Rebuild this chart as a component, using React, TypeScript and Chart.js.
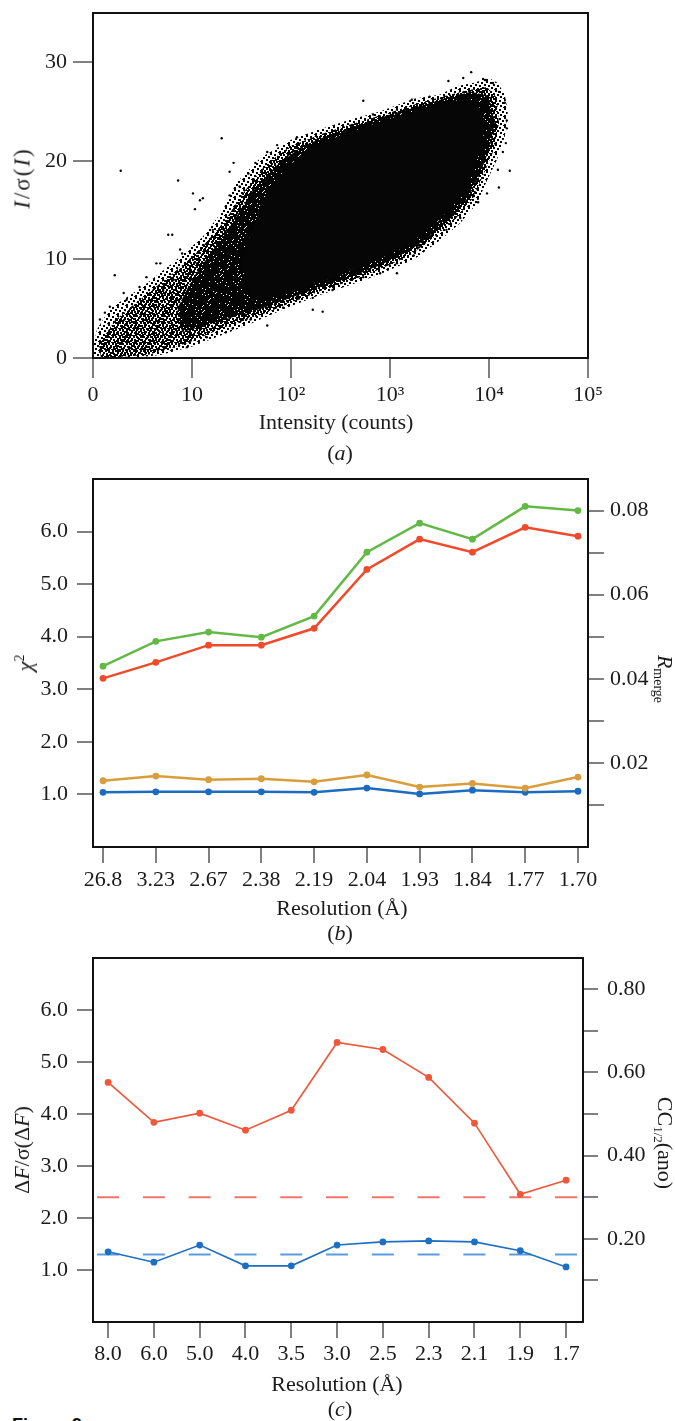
import React, { useEffect, useRef } from 'react';
import { Chart, registerables } from 'chart.js';

Chart.register(...registerables);

/* ---------------- (a) I/σ(I) vs intensity ---------------- */
const A_X_TICKS = [0, 1, 2, 3, 4, 5];
const A_X_LABELS = ['0', '10', '10²', '10³', '10⁴', '10⁵'];
const A_Y_TICKS = [0, 10, 20, 30];
// outlines of the scatter cloud at decreasing density (x = decade position, y = I/σ(I))
const A_CLOUD_SPARSE: number[][] = [
  [0.0, 0.0], [0.4, 0.0], [0.68, 0.3], [1.01, 1.2], [1.35, 2.5], [1.62, 3.6], [1.96, 5.1], [2.29, 6.4],
  [2.6, 7.4], [2.9, 8.5], [3.24, 10.0], [3.5, 11.9], [3.71, 13.7], [3.88, 15.7], [3.98, 18.0], [4.08, 20.1],
  [4.16, 22.5], [4.19, 25.0], [4.16, 26.7], [4.09, 27.9], [4.0, 28.4], [3.84, 27.9], [3.68, 27.6], [3.5, 26.7],
  [3.24, 26.3], [2.9, 25.0], [2.6, 24.2], [2.39, 23.5], [2.26, 23.1], [1.99, 22.1], [1.69, 20.3], [1.45, 17.8],
  [1.3, 14.8], [1.1, 12.2], [0.81, 9.7], [0.51, 7.3], [0.17, 5.0], [0.04, 2.9], [0.0, 1.0],
];
const A_CLOUD_DENSE: number[][] = [
  [0.08, 0.0], [0.55, 0.3], [0.95, 1.5], [1.3, 3.0], [1.7, 4.4], [2.0, 5.6], [2.3, 6.8], [2.6, 7.8],
  [2.9, 9.0], [3.2, 10.4], [3.45, 12.3], [3.66, 14.1], [3.83, 16.1], [3.94, 18.5], [4.04, 20.9], [4.1, 23.8],
  [4.08, 26.4], [3.98, 27.5], [3.8, 27.2], [3.6, 26.7], [3.3, 25.9], [3.0, 24.9], [2.6, 23.7], [2.3, 22.7],
  [2.0, 21.5], [1.75, 19.7], [1.52, 16.8], [1.33, 13.9], [1.08, 11.0], [0.82, 8.7], [0.52, 6.3], [0.22, 3.8],
  [0.06, 1.4],
];
const A_CLOUD_THICK: number[][] = [
  [0.9, 2.6], [1.3, 3.8], [1.7, 5.0], [2.0, 6.1], [2.3, 7.2], [2.6, 8.2], [2.9, 9.4], [3.2, 10.9],
  [3.45, 12.7], [3.65, 14.5], [3.8, 16.4], [3.92, 18.9], [4.01, 21.4], [4.06, 24.0], [4.0, 26.6], [3.82, 27.0],
  [3.6, 26.5], [3.35, 25.7], [3.0, 24.7], [2.7, 23.7], [2.4, 22.7], [2.1, 21.4], [1.85, 19.5], [1.6, 16.8],
  [1.4, 13.6], [1.2, 10.8], [1.0, 8.0], [0.85, 5.0],
];
const A_CLOUD_SOLID: number[][] = [
  [1.6, 5.8], [1.9, 6.3], [2.2, 7.3], [2.5, 8.4], [2.8, 9.6], [3.1, 11.0], [3.35, 12.7], [3.55, 14.5],
  [3.72, 16.6], [3.84, 19.0], [3.93, 21.5], [3.96, 24.0], [3.88, 26.0], [3.7, 26.2], [3.45, 25.6], [3.1, 24.6],
  [2.8, 23.6], [2.5, 22.6], [2.2, 21.3], [1.95, 19.3], [1.75, 16.5], [1.6, 13.0], [1.5, 9.5],
];
const A_STRAY: number[][] = [
  [0.28, 19.0], [1.3, 22.3], [0.86, 18.0], [0.22, 8.4], [0.31, 6.6], [1.01, 16.7], [1.11, 16.2], [1.76, 3.3],
  [2.22, 4.9], [2.32, 4.7], [0.8, 12.5], [0.88, 11.0], [1.05, 9.6], [0.68, 9.6], [1.57, 18.7], [1.42, 19.8],
  [1.38, 18.9], [1.86, 21.6], [2.06, 22.4], [2.73, 26.1], [4.21, 19.0], [4.1, 17.3], [3.71, 14.2], [3.4, 12.2],
  [3.07, 8.6], [3.24, 10.4], [3.82, 29.0], [3.59, 28.1], [3.96, 28.2], [4.17, 21.8], [4.18, 23.3], [3.84, 16.4],
  [3.89, 15.8], [0.76, 12.5], [0.9, 10.6], [0.64, 9.6], [0.54, 8.2], [0.47, 7.2], [1.08, 16.0], [1.03, 15.1],
  [1.21, 13.0], [1.38, 16.5], [1.48, 17.4], [1.64, 19.8], [1.76, 20.9], [1.99, 21.4], [0.07, 3.9], [0.12, 4.6],
  [0.17, 5.2], [0.34, 5.9], [0.4, 5.2], [0.71, 6.9], [0.81, 7.9], [3.3, 11.3], [3.57, 13.0], [3.4, 12.5],
  [3.07, 9.6], [2.9, 8.6], [2.73, 8.2], [3.98, 16.7], [4.09, 19.1], [4.14, 20.9], [4.18, 24.1], [4.16, 25.9],
  [4.1, 27.0], [4.04, 27.9], [3.94, 28.3], [3.74, 28.4], [3.4, 26.5], [3.22, 26.2], [2.83, 24.7], [2.6, 23.6],
  [1.41, 3.0], [1.59, 3.9], [1.92, 5.1], [2.22, 6.1], [2.42, 6.9], [1.15, 2.1], [0.95, 1.1],
];

/* ---------------- (b) χ² and Rmerge vs resolution ---------------- */
const B_RES = ['26.8', '3.23', '2.67', '2.38', '2.19', '2.04', '1.93', '1.84', '1.77', '1.70'];
const B_RMERGE_GREEN = [0.043, 0.0489, 0.0511, 0.0499, 0.0549, 0.0701, 0.077, 0.0732, 0.081, 0.08];
const B_RMERGE_RED = [0.0401, 0.0439, 0.048, 0.048, 0.052, 0.066, 0.0732, 0.0701, 0.076, 0.0739];
const B_CHI_ORANGE = [1.26, 1.35, 1.28, 1.3, 1.24, 1.37, 1.14, 1.21, 1.12, 1.33];
const B_CHI_BLUE = [1.04, 1.05, 1.05, 1.05, 1.04, 1.12, 1.01, 1.08, 1.04, 1.06];
const B_Y_TICKS = [1, 2, 3, 4, 5, 6];
const B_Y2_TICKS = [0.01, 0.02, 0.03, 0.04, 0.05, 0.06, 0.07, 0.08];
const B_Y2_LABELED = [0.02, 0.04, 0.06, 0.08];

/* ---------------- (c) ΔF/σ(ΔF) and CC1/2(ano) vs resolution ---------------- */
const C_RES = ['8.0', '6.0', '5.0', '4.0', '3.5', '3.0', '2.5', '2.3', '2.1', '1.9', '1.7'];
const C_CC_ANO = [0.576, 0.48, 0.502, 0.461, 0.509, 0.672, 0.655, 0.588, 0.478, 0.307, 0.341];
const C_DF_SIG = [1.35, 1.15, 1.48, 1.08, 1.08, 1.48, 1.54, 1.56, 1.54, 1.37, 1.06];
const C_DF_THRESHOLD = 1.3;
const C_CC_THRESHOLD = 0.3;
const C_Y_TICKS = [1, 2, 3, 4, 5, 6];
const C_Y2_TICKS = [0.1, 0.2, 0.3, 0.4, 0.5, 0.6, 0.7, 0.8];
const C_Y2_LABELED = [0.2, 0.4, 0.6, 0.8];

/* ---------------- styling ---------------- */
const SERIF = '"Liberation Serif", "Times New Roman", Times, serif';
const TICK_FONT = { family: SERIF, size: 22 };
const INK = '#1b1b1b';
const MARK = '#808080';

const fixBox = (w?: number, h?: number) => (s: any) => {
  if (w != null) s.width = w;
  if (h != null) s.height = h;
  s.paddingLeft = 0;
  s.paddingRight = 0;
  s.paddingTop = 0;
  s.paddingBottom = 0;
};

function axis(o: {
  position: string; min: number; max: number; ticks: number[]; label: (v: number) => string;
  tl: number; pad: number; w?: number; h?: number;
}) {
  return {
    type: 'linear',
    position: o.position,
    min: o.min,
    max: o.max,
    afterBuildTicks: (s: any) => { s.ticks = o.ticks.map((v) => ({ value: v })); },
    afterFit: fixBox(o.w, o.h),
    ticks: {
      font: TICK_FONT, color: INK, padding: o.pad, autoSkip: false, maxRotation: 0, minRotation: 0,
      callback: (v: number) => o.label(v),
    },
    grid: {
      drawOnChartArea: false, drawTicks: true, tickLength: o.tl, tickColor: MARK, tickWidth: 2,
      lineWidth: 2, color: MARK,
    },
    border: { display: false },
  };
}

const boxPlugin = {
  id: 'frameBox',
  afterDraw(chart: any) {
    const { ctx, chartArea: a } = chart;
    ctx.save();
    ctx.strokeStyle = '#111';
    ctx.lineWidth = 2;
    ctx.strokeRect(a.left, a.top, a.right - a.left, a.bottom - a.top);
    ctx.restore();
  },
};

const base = (padding: any) => ({
  animation: false,
  responsive: false,
  events: [],
  layout: { padding, autoPadding: false },
  plugins: { legend: { display: false }, tooltip: { enabled: false }, title: { display: false } },
});

const pts = (arr: number[][]) => arr.map(([x, y]) => ({ x, y }));
const series = (vals: number[], color: string, yAxisID: string, width: number, r: number) => ({
  data: vals.map((y, i) => ({ x: i, y })),
  yAxisID,
  borderColor: color,
  backgroundColor: color,
  borderWidth: width,
  pointRadius: r,
  pointBackgroundColor: color,
  pointBorderColor: color,
  pointBorderWidth: 0,
  fill: false,
  tension: 0,
});

// texture tiles for the scatter density (style only)
function dotPattern(size: number, dots: number[][], dot: number) {
  const c = document.createElement('canvas');
  c.width = size;
  c.height = size;
  const g = c.getContext('2d')!;
  g.fillStyle = '#000';
  dots.forEach(([x, y]) => g.fillRect(x, y, dot, dot));
  return g.createPattern(c, 'repeat');
}
function holePattern(size: number, holes: number[][]) {
  const c = document.createElement('canvas');
  c.width = size;
  c.height = size;
  const g = c.getContext('2d')!;
  g.fillStyle = '#050505';
  g.fillRect(0, 0, size, size);
  holes.forEach(([x, y]) => g.clearRect(x, y, 1, 1));
  return g.createPattern(c, 'repeat');
}

function configA() {
  const sparse = dotPattern(9, [[0, 0], [4, 1], [7, 3], [2, 4], [5, 6], [0, 7], [8, 8]], 2);
  const dense = dotPattern(7, [[0, 0], [3, 0], [5, 2], [1, 3], [4, 4], [2, 5], [6, 6], [0, 6]], 2);
  const thick = holePattern(6, [[1, 1], [4, 0], [3, 3], [0, 4], [5, 5]]);
  const poly = (arr: number[][], bg: any) => ({ data: pts(arr), fill: 'shape', backgroundColor: bg, borderWidth: 0, pointRadius: 0 });
  return {
    type: 'line',
    data: {
      datasets: [
        { data: pts(A_STRAY), showLine: false, pointRadius: 1.2, pointBackgroundColor: '#000', pointBorderWidth: 0, borderWidth: 0 },
        poly(A_CLOUD_SOLID, '#060606'),
        poly(A_CLOUD_THICK, thick),
        poly(A_CLOUD_DENSE, dense),
        poly(A_CLOUD_SPARSE, sparse),
      ],
    },
    options: {
      ...base({ top: 13, right: 87, left: 0, bottom: 0 }),
      scales: {
        x: axis({ position: 'bottom', min: 0, max: 5, ticks: A_X_TICKS, label: (v) => A_X_LABELS[A_X_TICKS.indexOf(v)] ?? '', tl: 20, pad: 4, h: 62 }),
        y: axis({ position: 'left', min: 0, max: 35, ticks: A_Y_TICKS, label: (v) => String(v), tl: 20, pad: 6, w: 93 }),
      },
    },
    plugins: [boxPlugin],
  };
}

function configB() {
  return {
    type: 'line',
    data: {
      datasets: [
        series(B_RMERGE_GREEN, '#63b946', 'y2', 2.5, 3.4),
        series(B_RMERGE_RED, '#f04a2b', 'y2', 2.5, 3.4),
        series(B_CHI_ORANGE, '#d99d3c', 'y', 2.5, 3.4),
        series(B_CHI_BLUE, '#1b6cc0', 'y', 2.5, 3.4),
      ],
    },
    options: {
      ...base({ top: 19, right: 0, left: 0, bottom: 0 }),
      scales: {
        x: axis({ position: 'bottom', min: -0.19, max: 9.19, ticks: B_RES.map((_, i) => i), label: (v) => B_RES[v] ?? '', tl: 16, pad: 4, h: 50 }),
        y: axis({ position: 'left', min: 0, max: 7, ticks: B_Y_TICKS, label: (v) => v.toFixed(1), tl: 16, pad: 9, w: 93 }),
        y2: axis({ position: 'right', min: 0, max: 0.0875, ticks: B_Y2_TICKS, label: (v) => (B_Y2_LABELED.includes(v) ? v.toFixed(2) : ''), tl: 16, pad: 6, w: 87 }),
      },
    },
    plugins: [boxPlugin],
  };
}

const C_X_MIN = -0.33;
const C_X_MAX = 10.37;

function configC() {
  const thr = (v: number, color: string, yAxisID: string) => ({
    data: [{ x: C_X_MIN, y: v }, { x: C_X_MAX, y: v }],
    yAxisID,
    borderColor: color,
    borderWidth: 2,
    borderDash: [22, 23.79],
    borderDashOffset: 41.7,
    pointRadius: 0,
    fill: false,
  });
  return {
    type: 'line',
    data: {
      datasets: [
        series(C_DF_SIG, '#1c6fc2', 'y', 1.6, 3.4),
        series(C_CC_ANO, '#f05638', 'y2', 1.6, 3.4),
        thr(C_DF_THRESHOLD, '#5c9be0', 'y'),
        thr(C_CC_THRESHOLD, '#f3766b', 'y2'),
      ],
    },
    options: {
      ...base({ top: 13, right: 0, left: 0, bottom: 0 }),
      scales: {
        x: axis({ position: 'bottom', min: C_X_MIN, max: C_X_MAX, ticks: C_RES.map((_, i) => i), label: (v) => C_RES[v] ?? '', tl: 16, pad: 3, h: 50 }),
        y: axis({ position: 'left', min: 0, max: 7, ticks: C_Y_TICKS, label: (v) => v.toFixed(1), tl: 16, pad: 9, w: 93 }),
        y2: axis({ position: 'right', min: 0, max: 0.875, ticks: C_Y2_TICKS, label: (v) => (C_Y2_LABELED.includes(v) ? v.toFixed(2) : ''), tl: 15, pad: 9, w: 92 }),
      },
    },
    plugins: [boxPlugin],
  };
}

function ChartCanvas({ top, height, make }: { top: number; height: number; make: () => any }) {
  const ref = useRef<HTMLCanvasElement>(null);
  useEffect(() => {
    const chart = new Chart(ref.current as HTMLCanvasElement, make());
    return () => chart.destroy();
  }, []);
  return (
    <canvas
      ref={ref}
      width={675}
      height={height}
      style={{ position: 'absolute', left: 0, top, width: 675, height }}
    />
  );
}

function Txt({ x, y, rot = 0, size = 22, style, children }: any) {
  return (
    <div
      style={{
        position: 'absolute', left: x, top: y, transform: `translate(-50%, -50%) rotate(${rot}deg)`,
        fontSize: size, lineHeight: 1, whiteSpace: 'nowrap', fontFamily: SERIF, color: INK, ...style,
      }}
    >
      {children}
    </div>
  );
}

const sub = (size: number, drop: number) => ({ fontSize: size, position: 'relative' as const, top: drop });

export default function App() {
  return (
    <div style={{ position: 'absolute', left: 0, top: 0, width: 675, height: 1421, overflow: 'hidden', background: '#fff' }}>
      <ChartCanvas top={0} height={420} make={configA} />
      <ChartCanvas top={460} height={437} make={configB} />
      <ChartCanvas top={945} height={427} make={configC} />

      {/* (a) */}
      <Txt x={22} y={178} rot={-90} size={23} style={{ letterSpacing: 2 }}>
        <i>I</i>/σ(<i>I</i>)
      </Txt>
      <Txt x={336} y={422}>Intensity (counts)</Txt>
      <Txt x={340} y={453}>(<i>a</i>)</Txt>

      {/* (b) */}
      <Txt x={25} y={663} rot={-90}>
        <i>χ</i><span style={sub(14, -8)}>2</span>
      </Txt>
      <Txt x={665} y={679} rot={90}>
        <i>R</i><span style={sub(14, 4)}>merge</span>
      </Txt>
      <Txt x={342} y={908}>Resolution (Å)</Txt>
      <Txt x={340} y={933}>(<i>b</i>)</Txt>

      {/* (c) */}
      <Txt x={22} y={1150} rot={-90}>
        Δ<i>F</i>/σ(Δ<i>F</i>)
      </Txt>
      <Txt x={665} y={1143} rot={90}>
        CC<span style={sub(13, 4)}>1/2</span>(ano)
      </Txt>
      <Txt x={337} y={1384}>Resolution (Å)</Txt>
      <Txt x={340} y={1409}>(<i>c</i>)</Txt>

      <div
        style={{
          position: 'absolute', left: 12, top: 1416, fontFamily: '"Liberation Sans", Arial, sans-serif',
          fontWeight: 'bold', fontSize: 18, lineHeight: 1, color: '#111', whiteSpace: 'nowrap',
        }}
      >
        Figure 9
      </div>
    </div>
  );
}
